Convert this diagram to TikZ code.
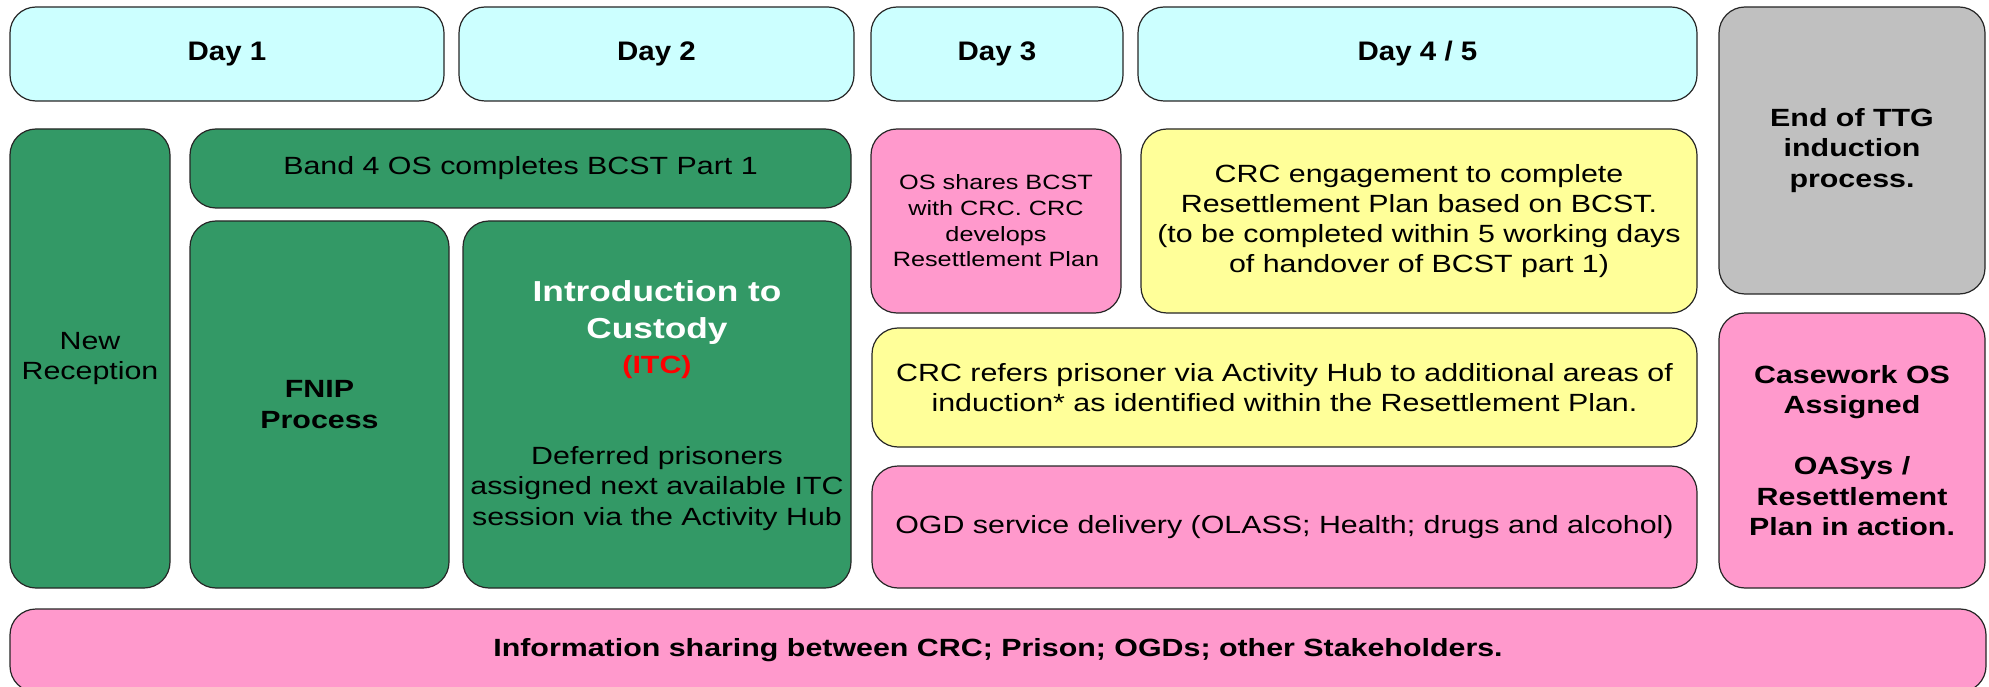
\documentclass[tikz,border=0pt]{standalone}
\usepackage{fontspec}
\setmainfont{Liberation Sans}[FakeStretch=1.22]
\newfontfamily\dayfont{Liberation Sans}[FakeStretch=1.1]
\definecolor{daycol}{HTML}{CCFFFF}
\definecolor{greencol}{HTML}{339966}
\definecolor{pinkcol}{HTML}{FF99CC}
\definecolor{yellowcol}{HTML}{FFFF99}
\definecolor{graycol}{HTML}{C0C0C0}
\tikzset{
  box/.style={draw=black!85, line width=1.2pt, rounded corners=26pt, inner sep=0pt, align=center},
  txt/.style={font=\fontsize{24.9}{30.5}\selectfont},
  btxt/.style={font=\fontsize{24.9}{30.5}\selectfont\bfseries},
  daytxt/.style={font=\fontsize{26.8}{32}\selectfont\dayfont\bfseries},
}
\begin{document}
\begin{tikzpicture}[x=1pt,y=-1pt]
\useasboundingbox (0,0) rectangle (1989,687);
% day headers
\node[box, fill=daycol, minimum width=434pt, minimum height=94pt, daytxt] (day1) at (227,54) {Day 1};
\node[box, fill=daycol, minimum width=395pt, minimum height=94pt, daytxt] (day2) at (656.5,54) {Day 2};
\node[box, fill=daycol, minimum width=252pt, minimum height=94pt, daytxt] (day3) at (997,54) {Day 3};
\node[box, fill=daycol, minimum width=559pt, minimum height=94pt, daytxt] (day45) at (1417.5,54) {Day 4 / 5};
% right column
\node[box, fill=graycol, minimum width=266pt, minimum height=287pt, btxt] (endttg) at (1852,150.5) {End of TTG\\induction\\process.};
\node[box, fill=pinkcol, minimum width=266pt, minimum height=275pt, btxt] (casework) at (1852,450.5) {Casework OS\\Assigned\\[30.5pt]OASys /\\Resettlement\\Plan in action.};
% green boxes
\node[box, fill=greencol, minimum width=160pt, minimum height=459pt, txt] (newrec) at (90,358.5) {New\\Reception};
\node[box, fill=greencol, minimum width=661pt, minimum height=79pt, txt] (band4) at (520.5,168.5) {Band 4 OS completes BCST Part 1};
\node[box, fill=greencol, minimum width=259pt, minimum height=367pt, btxt] (fnip) at (319.5,404.5) {FNIP\\Process};
\node[box, fill=greencol, minimum width=388pt, minimum height=367pt] (itc) at (657,404.5) {};
\node[anchor=base, text=white, inner sep=0pt, font=\fontsize{28.9}{36}\selectfont\bfseries] (itct1) at (657,301.7) {Introduction to};
\node[anchor=base, text=white, inner sep=0pt, font=\fontsize{28.9}{36}\selectfont\bfseries] (itct2) at (657,338) {Custody};
\node[anchor=base, text=red, inner sep=0pt, font=\fontsize{24.9}{30}\selectfont\bfseries] (itct3) at (657,373) {(ITC)};
\node[txt, align=center, inner sep=0pt] (itcd) at (657,488.5) {Deferred prisoners\\assigned next available ITC\\session via the Activity Hub};
% day 3 / 4-5 boxes
\node[box, fill=pinkcol, minimum width=250pt, minimum height=184pt, font=\fontsize{20.7}{25.7}\selectfont] (osshares) at (996,221) {OS shares BCST\\with CRC. CRC\\develops\\Resettlement Plan};
\node[box, fill=yellowcol, minimum width=556pt, minimum height=184pt, font=\fontsize{24.9}{30}\selectfont] (crceng) at (1419,221) {CRC engagement to complete\\Resettlement Plan based on BCST.\\(to be completed within 5 working days\\of handover of BCST part 1)};
\node[box, fill=yellowcol, minimum width=825pt, minimum height=119pt, font=\fontsize{24.9}{30}\selectfont] (crcref) at (1284.5,387.5) {CRC refers prisoner via Activity Hub to additional areas of\\induction* as identified within the Resettlement Plan.};
\node[box, fill=pinkcol, minimum width=825pt, minimum height=122pt, txt] (ogd) at (1284.5,527) {OGD service delivery (OLASS; Health; drugs and alcohol)};
% bottom bar
\node[box, fill=pinkcol, minimum width=1976pt, minimum height=83pt, btxt] (info) at (998,650.5) {Information sharing between CRC; Prison; OGDs; other Stakeholders.};
\end{tikzpicture}
\end{document}
